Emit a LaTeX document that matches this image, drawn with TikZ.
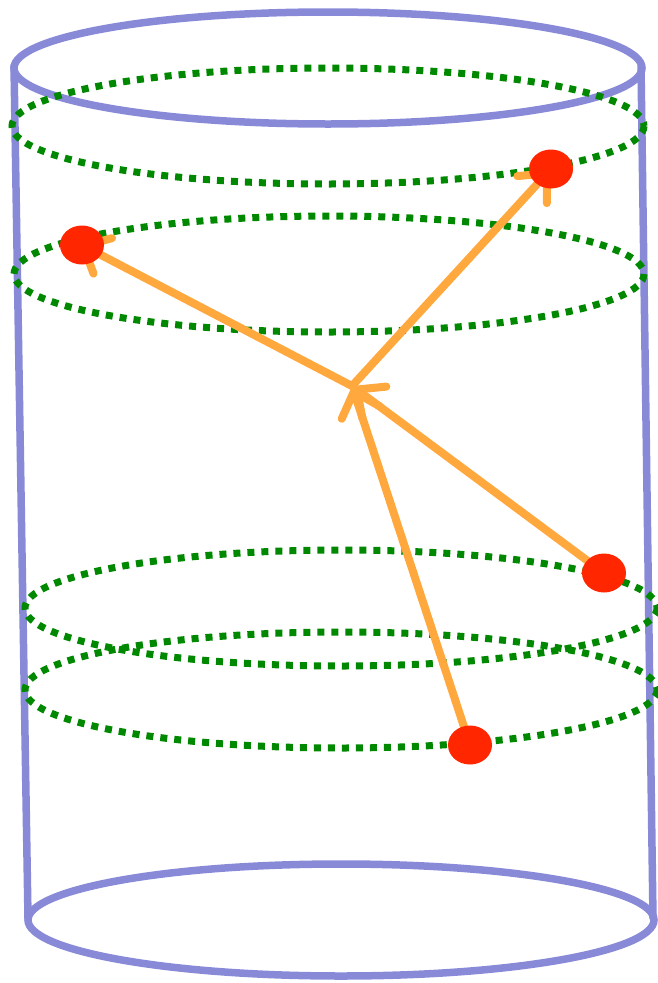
\documentclass[tikz,border=0pt]{standalone}
\usetikzlibrary{arrows.meta,shapes.geometric}
\definecolor{cylblue}{RGB}{136,138,216}
\definecolor{ringgreen}{RGB}{0,136,0}
\definecolor{dotred}{RGB}{255,38,0}
\definecolor{arrorange}{RGB}{255,168,62}
\tikzset{
  cyl/.style={draw=cylblue,line width=7.5pt,line cap=round},
  ring/.style={draw=ringgreen,line width=7pt,dash pattern=on 7pt off 7pt},
  pt/.style={ellipse,fill=dotred,minimum width=44pt,minimum height=39pt,inner sep=0pt},
  arr/.style={draw=arrorange,line width=8pt,line cap=round,
    -{Straight Barb[length=22pt,width=40pt,line cap=round]}},
}
\begin{document}
\begin{tikzpicture}[x=1pt,y=-1pt]
\useasboundingbox (0,0) rectangle (657,983);
% cylinder
\draw[cyl] (14,66) -- (28,918);
\draw[cyl] (641,66) -- (653,918);
\draw[cyl] (328,68) ellipse [x radius=314,y radius=56];
\draw[cyl] (341,920) ellipse [x radius=313,y radius=56];
% rings
\draw[ring] (328,126) ellipse [x radius=316,y radius=58];
\draw[ring] (329,274) ellipse [x radius=315,y radius=58];
\draw[ring] (341,608) ellipse [x radius=316,y radius=58];
\draw[ring] (341,690) ellipse [x radius=316,y radius=58];
% positions
\coordinate (c) at (352,386);
\coordinate (a) at (78,243);
\coordinate (b) at (551,169);
\coordinate (d) at (604,573);
\coordinate (e) at (470,745);
% arrows
\draw[arr] (c) -- (a);
\draw[arr] (c) -- (b);
\draw[arr] (d) -- (c);
\draw[arr] (e) -- (c);
% dots
\node[pt] (pa) at (82,245) {};
\node[pt] (pb) at (b) {};
\node[pt] (pd) at (d) {};
\node[pt] (pe) at (e) {};
\end{tikzpicture}
\end{document}
